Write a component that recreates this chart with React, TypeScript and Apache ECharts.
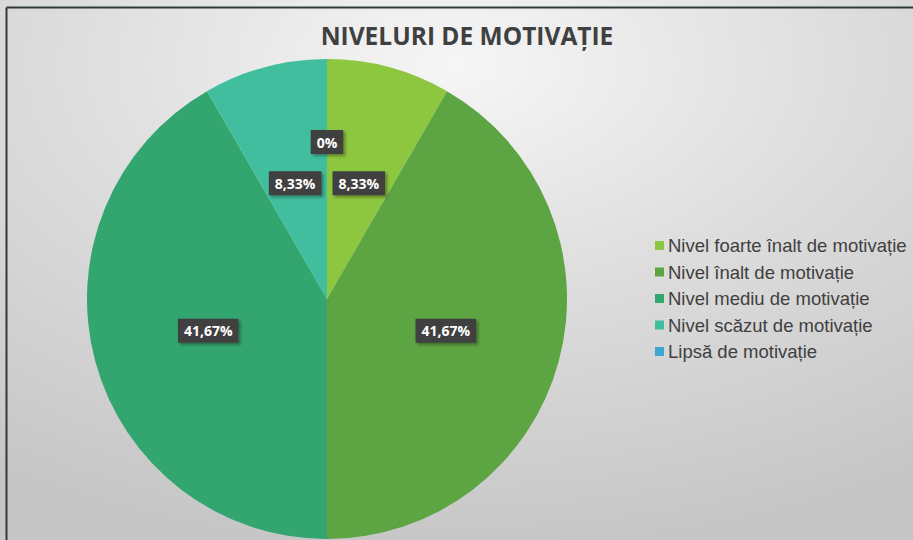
import React, { useEffect, useRef } from "react";
import * as echarts from "echarts";

const title = "NIVELURI DE MOTIVAȚIE";
const categories = [
  "Nivel foarte înalt de motivație",
  "Nivel înalt de motivație",
  "Nivel mediu de motivație",
  "Nivel scăzut de motivație",
  "Lipsă de motivație",
];
const values = [1, 5, 5, 1, 0];
const labels = ["8,33%", "41,67%", "41,67%", "8,33%", "0%"];
const colors = ["#8DC63F", "#5DA443", "#33A66F", "#40BE9E", "#3BA6D0"];

export default function App() {
  const ref = useRef<HTMLDivElement>(null);
  useEffect(() => {
    if (!ref.current) return;
    const chart = echarts.init(ref.current, undefined, { renderer: "svg" });
    chart.setOption({
      animation: false,
      backgroundColor: new echarts.graphic.RadialGradient(0.5, 0.12, 0.9, [
        { offset: 0, color: "#f6f6f6" },
        { offset: 0.5, color: "#dcdcdc" },
        { offset: 1, color: "#c6c6c6" },
      ]),
      title: {
        text: title,
        left: 462,
        top: 18,
        textAlign: "center",
        textStyle: {
          fontFamily: "Open Sans",
          fontWeight: "bold",
          fontSize: 24.5,
          color: "#404040",
        },
      },
      legend: {
        orient: "vertical",
        left: 650,
        top: 231,
        itemWidth: 9,
        itemHeight: 9,
        itemGap: 7.5,
        icon: "rect",
        textStyle: {
          fontFamily: "Liberation Sans",
          fontSize: 18.5,
          lineHeight: 18,
          color: "#404040",
          padding: [0, 0, 0, -1],
        },
        data: categories,
      },
      graphic: [
        {
          type: "line",
          shape: { x1: 6.5, y1: 7.5, x2: 913, y2: 7.5 },
          style: { stroke: "#2f3a3a", lineWidth: 2 },
        },
        {
          type: "line",
          shape: { x1: 6.5, y1: 7.5, x2: 6.5, y2: 540 },
          style: { stroke: "#2f3a3a", lineWidth: 2 },
        },
      ],
      series: [
        {
          type: "pie",
          center: [327, 299],
          radius: [0, 240],
          startAngle: 90,
          clockwise: true,
          stillShowZeroSum: true,
          minShowLabelAngle: 0,
          avoidLabelOverlap: false,
          itemStyle: { borderWidth: 0 },
          label: {
            show: true,
            position: "inside",
            formatter: (p: any) => labels[p.dataIndex],
            backgroundColor: "#404040",
            color: "#ffffff",
            fontFamily: "Open Sans",
            fontWeight: "bold",
            fontSize: 14,
            lineHeight: 16,
            padding: [4, 6, 4, 6],
            shadowColor: "rgba(0,0,0,0.35)",
            shadowBlur: 3,
            shadowOffsetX: 2,
            shadowOffsetY: 2,
          },
          labelLine: { show: false },
          labelLayout: (params: any) => {
            if (params.dataIndex === 4) {
              return { x: 327, y: 142, align: "center", verticalAlign: "middle" };
            }
            if (params.dataIndex === 0 || params.dataIndex === 3) {
              return { dy: 3 };
            }
            return {};
          },
          emphasis: { disabled: true },
          data: categories.map((name, i) => ({
            name,
            value: values[i],
            itemStyle: { color: colors[i] },
          })),
        },
      ],
    });
    return () => chart.dispose();
  }, []);
  return (
    <div
      ref={ref}
      style={{ position: "absolute", left: 0, top: 0, width: 913, height: 540 }}
    />
  );
}
